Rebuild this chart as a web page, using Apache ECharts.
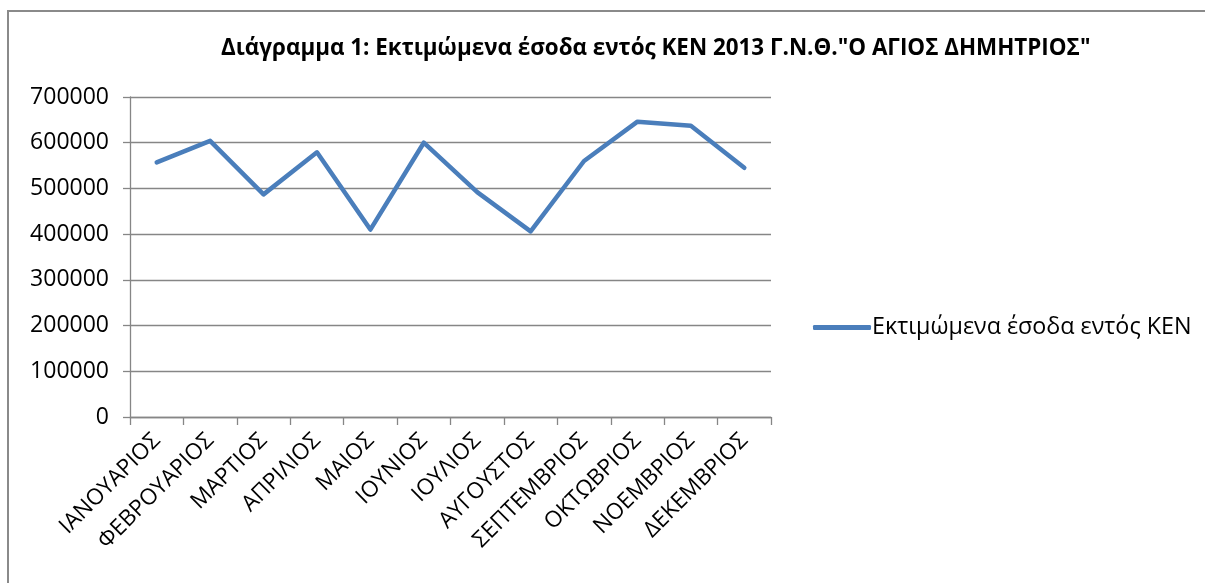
<!DOCTYPE html>
<html>
<head>
<meta charset="utf-8">
<script src="https://cdn.jsdelivr.net/npm/echarts@6/dist/echarts.min.js"></script>
<style>
  html, body { margin: 0; padding: 0; background: #ffffff; }
  #chart { width: 1205px; height: 583px; }
</style>
</head>
<body>
<div id="chart"></div>
<script>
// Monthly estimated revenue within KEN (DRG), 2013
const months = ['ΙΑΝΟΥΑΡΙΟΣ', 'ΦΕΒΡΟΥΑΡΙΟΣ', 'ΜΑΡΤΙΟΣ', 'ΑΠΡΙΛΙΟΣ', 'ΜΑΙΟΣ', 'ΙΟΥΝΙΟΣ',
  'ΙΟΥΛΙΟΣ', 'ΑΥΓΟΥΣΤΟΣ', 'ΣΕΠΤΕΜΒΡΙΟΣ', 'ΟΚΤΩΒΡΙΟΣ', 'ΝΟΕΜΒΡΙΟΣ', 'ΔΕΚΕΜΒΡΙΟΣ'];
const revenue = [557000, 604000, 487000, 579000, 410000, 600000,
  492000, 406000, 560000, 646000, 637000, 545000];
const seriesName = 'Εκτιμώμενα έσοδα εντός ΚΕΝ';
const chartTitle = 'Διάγραμμα 1: Εκτιμώμενα έσοδα εντός ΚΕΝ 2013 Γ.Ν.Θ."Ο ΑΓΙΟΣ ΔΗΜΗΤΡΙΟΣ"';

const FONT = '"Open Sans", "Noto Sans", sans-serif';
const GRID_GRAY = '#868686';
const LINE_BLUE = '#4a7ebb';

const chart = echarts.init(document.getElementById('chart'), null, { renderer: 'canvas' });
chart.setOption({
  backgroundColor: '#ffffff',
  animation: false,
  graphic: [{
    type: 'rect',
    shape: { x: 8, y: 11, width: 1400, height: 800 },
    style: { fill: 'none', stroke: '#8a8a8a', lineWidth: 2 },
    silent: true
  }],
  title: {
    text: chartTitle,
    left: 216,
    top: 33,
    textStyle: { fontFamily: FONT, fontWeight: 'bold', fontSize: 22.4, color: '#000000' }
  },
  legend: {
    data: [seriesName],
    left: 808,
    top: 311,
    icon: 'roundRect',
    itemWidth: 58,
    itemHeight: 5,
    itemGap: 0,
    textStyle: { fontFamily: FONT, fontSize: 23.3, color: '#000000', padding: [0, 0, 0, -4] }
  },
  grid: { left: 130, right: 434, top: 97, bottom: 166 },
  xAxis: {
    type: 'category',
    data: months,
    boundaryGap: true,
    axisLine: { lineStyle: { color: GRID_GRAY, width: 1.3 } },
    axisTick: { show: true, length: 8, interval: 0, lineStyle: { color: GRID_GRAY, width: 1.3 } },
    axisLabel: {
      interval: 0,
      rotate: 45,
      margin: 20,
      fontFamily: FONT,
      fontSize: 22.5,
      color: '#000000'
    }
  },
  yAxis: {
    type: 'value',
    min: 0,
    max: 700000,
    interval: 100000,
    axisLine: { show: true, lineStyle: { color: GRID_GRAY, width: 1.3 } },
    axisTick: { show: true, length: 7, lineStyle: { color: GRID_GRAY, width: 1.3 } },
    splitLine: { show: true, lineStyle: { color: GRID_GRAY, width: 1.3 } },
    axisLabel: {
      margin: 21,
      fontFamily: FONT,
      fontSize: 23,
      color: '#000000',
      formatter: (v) => String(v)
    }
  },
  series: [{
    name: seriesName,
    type: 'line',
    data: revenue,
    symbol: 'none',
    lineStyle: { color: LINE_BLUE, width: 4.5, cap: 'round', join: 'round' },
    itemStyle: { color: LINE_BLUE }
  }]
});
</script>
</body>
</html>
